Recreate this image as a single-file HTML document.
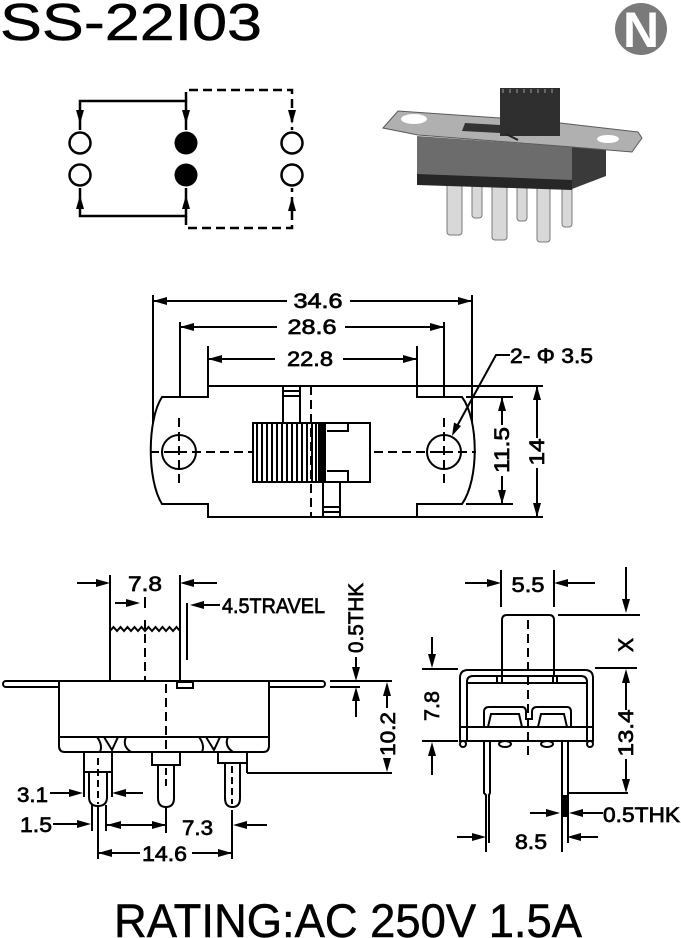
<!DOCTYPE html>
<html><head><meta charset="utf-8"><style>
html,body{margin:0;padding:0;background:#fff;}
svg{display:block;}
text{font-family:"Liberation Sans",Arial,sans-serif;fill:#000;}
.d{font-size:21px;stroke:#000;stroke-width:0.7;}
</style></head><body>
<svg width="681" height="938" viewBox="0 0 681 938" xmlns="http://www.w3.org/2000/svg">
<rect width="681" height="938" fill="#fff"/>

<!-- Title -->
<text x="0" y="40" font-size="52" textLength="262" lengthAdjust="spacingAndGlyphs" stroke="#000" stroke-width="0.5">SS-22I03</text>

<!-- Logo -->
<circle cx="641" cy="29" r="26" fill="#7a7a7a"/>
<text x="641" y="47" font-size="50" font-weight="bold" text-anchor="middle" style="fill:#fff">N</text>

<!-- Schematic -->
<g stroke="#000" stroke-width="2.5" fill="none">
  <circle cx="80" cy="143" r="10.5"/>
  <circle cx="80" cy="175" r="10.5"/>
  <circle cx="292" cy="143" r="10.5"/>
  <circle cx="292" cy="175" r="10.5"/>
  <path d="M80,130 L80,101 L186,101 L186,130"/>
  <path d="M80,188 L80,216 L186,216 L186,188"/>
  <path d="M186,101 L186,90 L292,90 L292,130" stroke-dasharray="9 5"/>
  <path d="M186,216 L186,228 L292,228 L292,188" stroke-dasharray="9 5"/>
</g>
<circle cx="186" cy="143" r="11.5" fill="#000"/>
<circle cx="186" cy="175" r="11.5" fill="#000"/>
<g fill="#000">
  <polygon points="80,124 76,110 84,110"/>
  <polygon points="186,124 182,110 190,110"/>
  <polygon points="292,124 288,110 296,110"/>
  <polygon points="80,195 76,209 84,209"/>
  <polygon points="186,195 182,209 190,209"/>
  <polygon points="292,197 288,211 296,211"/>
</g>

<!-- Photo -->
<g>
  <g fill="#d8d8d8" stroke="#7a7a7a" stroke-width="1">
    <rect x="447" y="182" width="15" height="53" rx="3"/>
    <rect x="472" y="182" width="10" height="36" rx="3"/>
    <rect x="492" y="182" width="15" height="58" rx="3"/>
    <rect x="517" y="182" width="10" height="39" rx="3"/>
    <rect x="537" y="182" width="13" height="60" rx="3"/>
    <rect x="562" y="182" width="10" height="45" rx="3"/>
  </g>
  <polygon points="572,147 606,150 606,176 572,189" fill="#3a3a3a"/>
  <polygon points="417,136 572,147 572,189 417,182" fill="#6c6c6c"/>
  <polygon points="417,174 572,180 572,190 417,185" fill="#262626"/>
  <polygon points="383,128 398,111 500,118 560,123 638,132 642,138 632,152 572,147 418,135" fill="#b0b0b0" stroke="#5a5a5a" stroke-width="1"/>
  <ellipse cx="414" cy="119" rx="13" ry="5" fill="#fff"/>
  <ellipse cx="608" cy="139" rx="11" ry="4" fill="#fff"/>
  <polygon points="465,123 500,125 500,133 462,131" fill="#333"/>
  <rect x="500" y="88" width="60" height="48" fill="#2f2f2f"/>
  <path d="M503,89 L503,93 M510,89 L510,93 M517,89 L517,93 M524,89 L524,93 M531,89 L531,93 M538,89 L538,93 M545,89 L545,93 M552,89 L552,93" stroke="#666" stroke-width="2"/>
  <line x1="506" y1="134" x2="518" y2="140" stroke="#222" stroke-width="2"/>
</g>

<!-- Top view -->
<g stroke="#000" stroke-width="2" fill="none">
  <line x1="153" y1="295" x2="153" y2="440"/>
  <line x1="472" y1="295" x2="472" y2="423"/>
  <line x1="180" y1="322" x2="180" y2="418"/>
  <line x1="444" y1="322" x2="444" y2="418"/>
  <line x1="208" y1="346" x2="208" y2="397"/>
  <line x1="417" y1="346" x2="417" y2="397"/>
  <line x1="153" y1="301" x2="287" y2="301"/>
  <line x1="350" y1="301" x2="472" y2="301"/>
  <line x1="180" y1="327" x2="277" y2="327"/>
  <line x1="345" y1="327" x2="444" y2="327"/>
  <line x1="208" y1="359" x2="275" y2="359"/>
  <line x1="343" y1="359" x2="417" y2="359"/>
  <path d="M208,386 L417,386 L417,397 L462,397 C479,420 479,480 462,504 L417,504 L417,517 L208,517 L208,504 L162,504 C147,480 147,420 162,397 L208,397 Z" fill="#fff"/>
  <line x1="417" y1="386" x2="543" y2="386"/>
  <line x1="418" y1="517" x2="543" y2="517"/>
  <line x1="466" y1="397" x2="513" y2="397"/>
  <line x1="466" y1="504" x2="513" y2="504"/>
  <circle cx="179" cy="452" r="17"/>
  <circle cx="444" cy="452" r="17"/>
  <line x1="173" y1="452" x2="185" y2="452"/>
  <line x1="438" y1="452" x2="450" y2="452"/>
  <line x1="179" y1="418" x2="179" y2="486" stroke-dasharray="9 5"/>
  <line x1="444" y1="418" x2="444" y2="486" stroke-dasharray="9 5"/>
  <line x1="150" y1="452" x2="476" y2="452" stroke-dasharray="9 5"/>
  <rect x="283" y="386" width="17" height="37" fill="#fff"/>
  <line x1="283" y1="391" x2="300" y2="391"/>
  <line x1="283" y1="396" x2="300" y2="396"/>
  <rect x="323" y="482" width="17" height="35" fill="#fff"/>
  <line x1="323" y1="507" x2="340" y2="507"/>
  <line x1="323" y1="512" x2="340" y2="512"/>
  <rect x="253" y="423" width="72" height="59" fill="#fff"/>
  <path d="M257,423 V482 M262,423 V482 M267,423 V482 M272,423 V482 M277,423 V482 M282,423 V482 M287,423 V482 M292,423 V482 M297,423 V482 M302,423 V482 M307,423 V482 M312,423 V482 M316,423 V482 M320,423 V482"/>
  <rect x="319" y="423" width="6" height="59" fill="#000"/>
  <rect x="325" y="423" width="45" height="59" fill="#fff"/>
  <path d="M327,431 L348,431 L348,423 M327,471 L348,471 L348,482"/>
  <line x1="311" y1="386" x2="311" y2="517" stroke-dasharray="9 5"/>
  <line x1="537" y1="386" x2="537" y2="438"/>
  <line x1="537" y1="468" x2="537" y2="517"/>
  <line x1="502" y1="397" x2="502" y2="425"/>
  <line x1="502" y1="476" x2="502" y2="504"/>
  <path d="M510,355 L496,355 L456,428"/>
</g>
<g fill="#000">
  <polygon points="153,301 167,297 167,305"/>
  <polygon points="472,301 458,297 458,305"/>
  <polygon points="180,327 194,323 194,331"/>
  <polygon points="444,327 430,323 430,331"/>
  <polygon points="208,359 222,355 222,363"/>
  <polygon points="417,359 403,355 403,363"/>
  <polygon points="537,386 533,400 541,400"/>
  <polygon points="537,517 533,503 541,503"/>
  <polygon points="502,397 498,411 506,411"/>
  <polygon points="502,504 498,490 506,490"/>
  <polygon points="452,436 461,426 454,422.5"/>
</g>
<text class="d" x="318" y="308" text-anchor="middle" textLength="49" lengthAdjust="spacingAndGlyphs">34.6</text>
<text class="d" x="312" y="334" text-anchor="middle" textLength="49" lengthAdjust="spacingAndGlyphs">28.6</text>
<text class="d" x="310" y="366" text-anchor="middle" textLength="46" lengthAdjust="spacingAndGlyphs">22.8</text>
<text class="d" x="510" y="363" textLength="83" lengthAdjust="spacingAndGlyphs">2- Φ 3.5</text>
<text class="d" x="537" y="459" text-anchor="middle" textLength="27" lengthAdjust="spacingAndGlyphs" transform="rotate(-90 537 452)">14</text>
<text class="d" x="502" y="457" text-anchor="middle" textLength="46" lengthAdjust="spacingAndGlyphs" transform="rotate(-90 502 450)">11.5</text>

<!-- Side view -->
<g stroke="#000" stroke-width="2" fill="none">
  <rect x="3" y="681" width="322" height="6" rx="3" fill="#fff"/>
  <path d="M59,681 L269,681 L269,746 Q269,752 263,752 L65,752 Q59,752 59,746 Z" fill="#fff"/>
  <line x1="59" y1="737" x2="269" y2="737"/>
  <path d="M97,737 Q103,745 100,752" />
  <path d="M104,737 L112,750 L118,737" />
  <path d="M126,737 Q122,746 131,752" />
  <path d="M199,737 Q205,745 202,752" />
  <path d="M206,737 L214,750 L220,737" />
  <path d="M228,737 Q224,746 233,752" />
  <line x1="110" y1="575" x2="110" y2="681"/>
  <line x1="180" y1="575" x2="180" y2="681"/>
  <polyline points="110,631 113.5,627 117,631 120.5,627 124,631 127.5,627 131,631 134.5,627 138,631 141.5,627 145,631 148.5,627 152,631 155.5,627 159,631 162.5,627 166,631 169.5,627 173,631 176.5,627 180,631"/>
  <rect x="177" y="682" width="16" height="6" fill="#fff"/>
  <line x1="187" y1="603" x2="187" y2="660"/>
  <line x1="145" y1="597" x2="145" y2="608"/>
  <line x1="145" y1="620" x2="145" y2="681" stroke-dasharray="9 5"/>
  <line x1="166" y1="684" x2="166" y2="752" stroke-dasharray="9 5"/>
  <line x1="77" y1="583" x2="100" y2="583"/>
  <line x1="190" y1="583" x2="217" y2="583"/>
  <line x1="115" y1="603" x2="130" y2="603"/>
  <line x1="200" y1="605" x2="220" y2="605"/>
  <line x1="330" y1="681" x2="392" y2="681"/>
  <line x1="330" y1="687" x2="360" y2="687"/>
  <line x1="356" y1="657" x2="356" y2="671"/>
  <line x1="356" y1="697" x2="356" y2="717"/>
  <line x1="387" y1="690" x2="387" y2="708"/>
  <line x1="247" y1="773" x2="392" y2="773"/>
  <path d="M84,752 L84,797 M112,752 L112,797 M84,772 L112,772" />
  <path d="M89,772 L89,797 Q89,806 98,806 Q107,806 107,797 L107,772"/>
  <path d="M152,752 L152,765 L180,765 L180,752"/>
  <path d="M158,765 L158,798 Q158,807 166,807 Q174,807 174,798 L174,765"/>
  <path d="M218,752 L218,763 L247,763 L247,752 M247,763 L247,773"/>
  <path d="M225,763 L225,798 Q225,807 232.5,807 Q240,807 240,798 L240,763"/>
  <line x1="98" y1="758" x2="98" y2="804" stroke-dasharray="7 4"/>
  <line x1="166" y1="768" x2="166" y2="790" stroke-dasharray="7 4"/>
  <line x1="232" y1="766" x2="232" y2="804" stroke-dasharray="7 4"/>
  <line x1="50" y1="793" x2="72" y2="793"/>
  <line x1="123" y1="793" x2="143" y2="793"/>
  <line x1="92" y1="805" x2="92" y2="831"/>
  <line x1="106" y1="805" x2="106" y2="831"/>
  <line x1="53" y1="824" x2="80" y2="824"/>
  <line x1="106" y1="825" x2="166" y2="825"/>
  <line x1="166" y1="808" x2="166" y2="833"/>
  <line x1="244" y1="825" x2="267" y2="825"/>
  <line x1="98" y1="806" x2="98" y2="859"/>
  <line x1="232" y1="810" x2="232" y2="859"/>
  <line x1="98" y1="853" x2="140" y2="853"/>
  <line x1="192" y1="853" x2="232" y2="853"/>
</g>
<g fill="#000">
  <polygon points="110,583 96,579 96,587"/>
  <polygon points="180,583 194,579 194,587"/>
  <polygon points="140,603 126,599 126,607"/>
  <polygon points="190,605 204,601 204,609"/>
  <polygon points="356,681 352,667 360,667"/>
  <polygon points="356,687 352,701 360,701"/>
  <polygon points="387,682 383,696 391,696"/>
  <polygon points="387,772 383,758 391,758"/>
  <polygon points="83,793 69,789 69,797"/>
  <polygon points="112,793 126,789 126,797"/>
  <polygon points="91,824 77,820 77,828"/>
  <polygon points="107,825 121,821 121,829"/>
  <polygon points="166,825 152,821 152,829"/>
  <polygon points="233,825 247,821 247,829"/>
  <polygon points="98,853 112,849 112,857"/>
  <polygon points="232,853 218,849 218,857"/>
</g>
<text class="d" x="145" y="591" text-anchor="middle" textLength="34" lengthAdjust="spacingAndGlyphs">7.8</text>
<text class="d" x="222" y="613" textLength="103" lengthAdjust="spacingAndGlyphs">4.5TRAVEL</text>
<text class="d" x="356" y="625" text-anchor="middle" textLength="70" lengthAdjust="spacingAndGlyphs" transform="rotate(-90 356 618)">0.5THK</text>
<text class="d" x="388" y="741" text-anchor="middle" textLength="44" lengthAdjust="spacingAndGlyphs" transform="rotate(-90 388 734)">10.2</text>
<text class="d" x="17" y="802" textLength="31" lengthAdjust="spacingAndGlyphs">3.1</text>
<text class="d" x="20" y="832" textLength="32" lengthAdjust="spacingAndGlyphs">1.5</text>
<text class="d" x="182" y="835" textLength="31" lengthAdjust="spacingAndGlyphs">7.3</text>
<text class="d" x="142" y="861" textLength="45" lengthAdjust="spacingAndGlyphs">14.6</text>

<!-- Right view -->
<g stroke="#000" stroke-width="2" fill="none">
  <line x1="501" y1="570" x2="501" y2="607"/>
  <line x1="554" y1="570" x2="554" y2="607"/>
  <line x1="465" y1="583" x2="490" y2="583"/>
  <line x1="565" y1="583" x2="595" y2="583"/>
  <path d="M502,676 L502,620 Q502,615 507,615 L549,615 Q554,615 554,620 L554,676" fill="#fff"/>
  <line x1="558" y1="615" x2="640" y2="615"/>
  <line x1="626" y1="567" x2="626" y2="602"/>
  <line x1="595" y1="668" x2="637" y2="668"/>
  <line x1="626" y1="680" x2="626" y2="710"/>
  <line x1="626" y1="759" x2="626" y2="782"/>
  <line x1="568" y1="793" x2="628" y2="793"/>
  <line x1="422" y1="669" x2="458" y2="669"/>
  <line x1="422" y1="741" x2="458" y2="741"/>
  <line x1="432" y1="637" x2="432" y2="657"/>
  <line x1="432" y1="753" x2="432" y2="775"/>
  <path d="M460,742 L460,678 Q460,670 468,670 L585,670 Q593,670 593,678 L593,742"/>
  <path d="M467,742 L467,682 Q467,676 473,676 L581,676 Q587,676 587,682 L587,742"/>
  <line x1="467" y1="683" x2="587" y2="683"/>
  <line x1="460" y1="727" x2="593" y2="727"/>
  <line x1="460" y1="741" x2="593" y2="741"/>
  <rect x="497" y="676" width="5" height="7"/>
  <rect x="553" y="676" width="4" height="7"/>
  <path d="M484,727 L484,712 Q484,707 489,707 L522,707 Q526,707 526,712 L526,719 L532,719 L532,712 Q532,707 537,707 L567,707 Q571,707 571,712 L571,727"/>
  <path d="M488,727 L491,714 L519,714 L522,727 M538,727 L541,714 L564,714 L567,727"/>
  <circle cx="463" cy="744" r="3"/>
  <circle cx="590" cy="744" r="3"/>
  <ellipse cx="505" cy="744" rx="6" ry="3"/>
  <ellipse cx="547" cy="744" rx="6" ry="3"/>
  <line x1="528" y1="620" x2="528" y2="755" stroke-dasharray="9 5"/>
  <path d="M484,742 L484,793 L486,795 L486,852 M490,742 L490,793 L489,795 L489,843"/>
  <path d="M562,742 L562,852 M568,742 L568,843"/>
  <line x1="457" y1="837" x2="475" y2="837"/>
  <line x1="579" y1="837" x2="598" y2="837"/>
  <line x1="530" y1="813" x2="549" y2="813"/>
  <line x1="580" y1="813" x2="603" y2="813"/>
</g>
<rect x="561" y="795" width="7" height="22" fill="#000"/>
<g fill="#000">
  <polygon points="501,583 487,579 487,587"/>
  <polygon points="554,583 568,579 568,587"/>
  <polygon points="626,613 622,599 630,599"/>
  <polygon points="626,669 622,683 630,683"/>
  <polygon points="626,793 622,779 630,779"/>
  <polygon points="432,668 428,654 436,654"/>
  <polygon points="432,742 428,756 436,756"/>
  <polygon points="560,813 546,809 546,817"/>
  <polygon points="569,813 583,809 583,817"/>
  <polygon points="486,837 472,833 472,841"/>
  <polygon points="567,837 581,833 581,841"/>
</g>
<text class="d" x="528" y="592" text-anchor="middle" textLength="33" lengthAdjust="spacingAndGlyphs">5.5</text>
<text class="d" x="626" y="652" text-anchor="middle" transform="rotate(-90 626 645)">X</text>
<text class="d" x="626" y="740" text-anchor="middle" textLength="47" lengthAdjust="spacingAndGlyphs" transform="rotate(-90 626 733)">13.4</text>
<text class="d" x="432" y="713" text-anchor="middle" textLength="30" lengthAdjust="spacingAndGlyphs" transform="rotate(-90 432 706)">7.8</text>
<text class="d" x="603" y="822" textLength="77" lengthAdjust="spacingAndGlyphs">0.5THK</text>
<text class="d" x="531" y="849" text-anchor="middle" textLength="32" lengthAdjust="spacingAndGlyphs">8.5</text>

<!-- Rating -->
<text x="114" y="937" font-size="47" textLength="468" lengthAdjust="spacingAndGlyphs" stroke="#000" stroke-width="0.5">RATING:AC 250V 1.5A</text>
</svg>
</body></html>
